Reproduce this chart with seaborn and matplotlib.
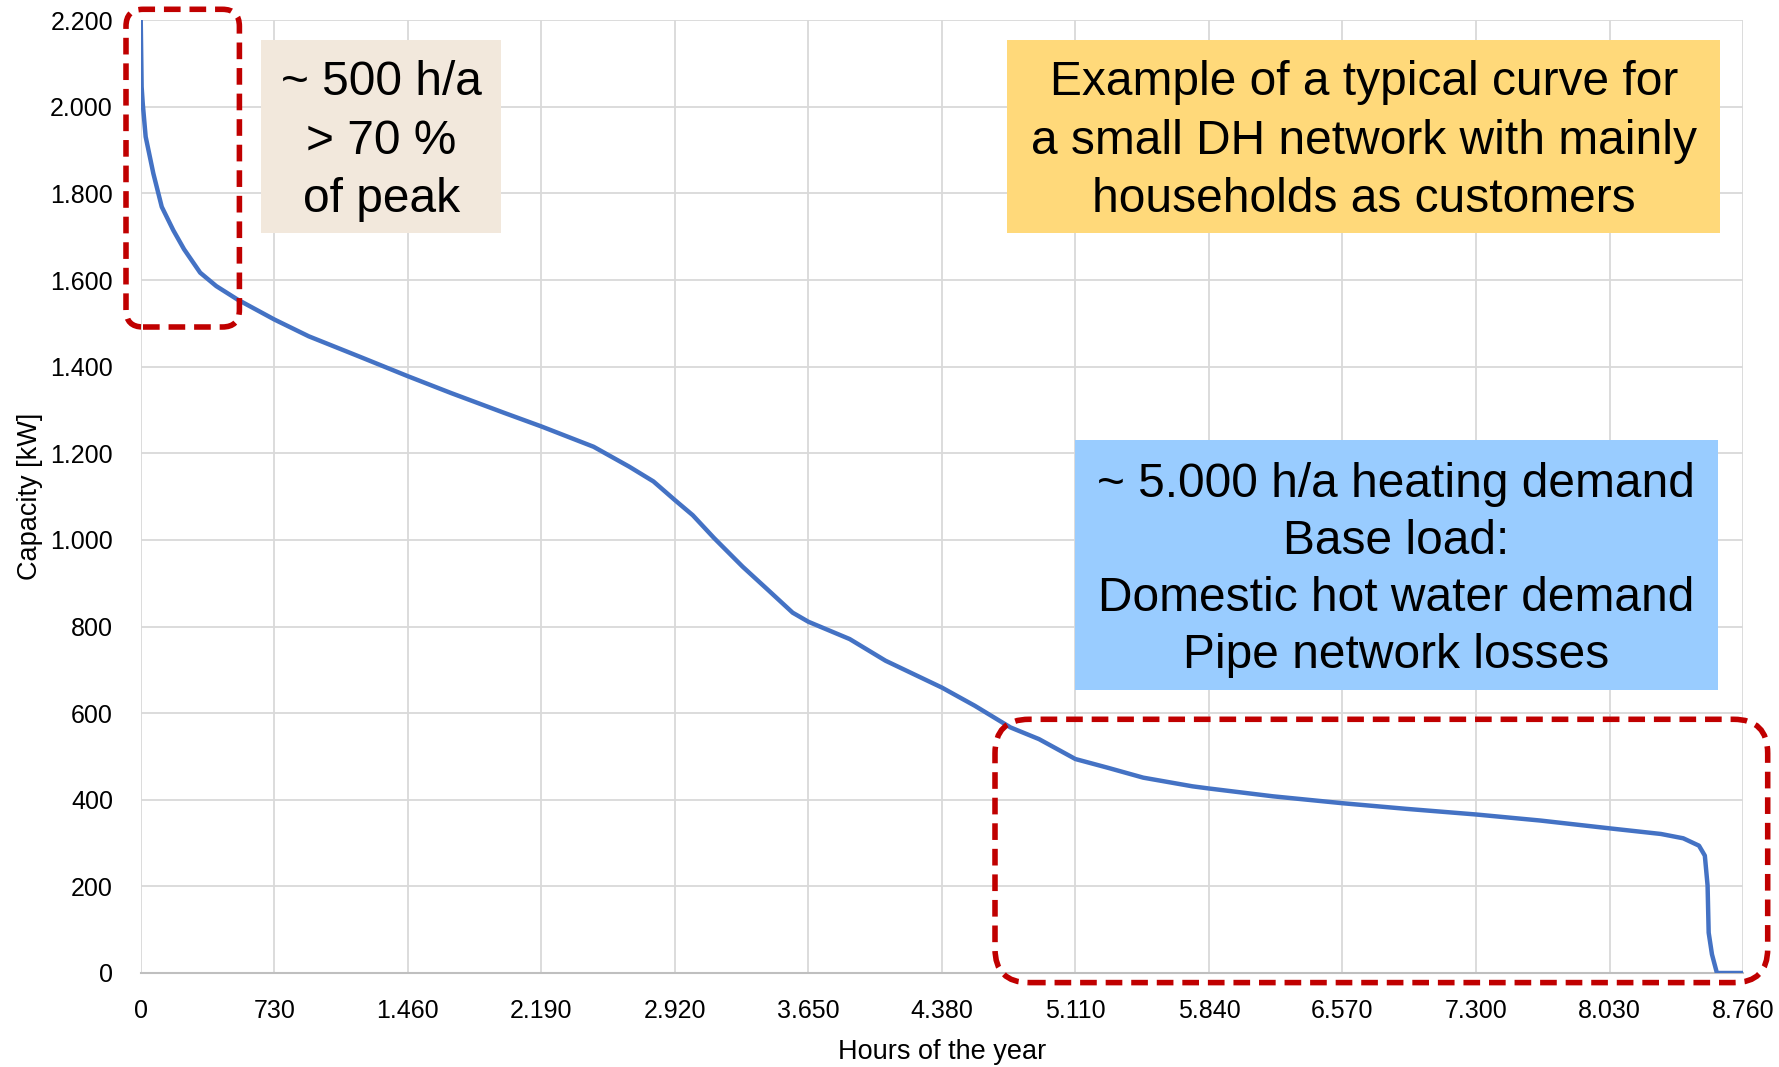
import numpy as np
import pandas as pd
import matplotlib.pyplot as plt
import seaborn as sns

from matplotlib.patches import FancyBboxPatch
from matplotlib.ticker import FuncFormatter, MultipleLocator

# load duration curve
hours = [0, 5, 11, 27, 69, 115, 178, 237, 325, 413, 529, 730, 919, 1191, 1460,
         1697, 1989, 2190, 2476, 2671, 2803, 2920, 3018, 3135, 3291, 3428, 3564,
         3650, 3876, 4072, 4380, 4560, 4755, 4911, 5110, 5286, 5481, 5750, 5840,
         6189, 6570, 6919, 7300, 7652, 8030, 8311, 8433, 8519, 8551, 8566, 8572,
         8590, 8617, 8760]
capacity_kw = [2200, 2046, 2008, 1931, 1846, 1769, 1715, 1671, 1617, 1586, 1555,
               1509, 1470, 1424, 1378, 1339, 1293, 1262, 1215, 1169, 1135, 1092,
               1057, 1004, 938, 885, 832, 811, 771, 721, 659, 617, 567, 540, 494,
               474, 451, 431, 426, 408, 392, 379, 366, 352, 334, 321, 311, 294,
               271, 202, 93, 43, 0, 0]

x_ticks = list(range(0, 8761, 730))
peak_text = "~ 500 h/a\n> 70 %\nof peak"
title_text = "Example of a typical curve for\na small DH network with mainly\nhouseholds as customers"
base_text = "~ 5.000 h/a heating demand\nBase load:\nDomestic hot water demand\nPipe network losses"

sns.set_style("white")
plt.rcParams["font.family"] = ["Liberation Sans Narrow", "Liberation Sans", "DejaVu Sans"]
plt.rcParams["text.color"] = "black"
plt.rcParams["axes.labelcolor"] = "black"

df = pd.DataFrame({"hours": hours, "capacity": capacity_kw})

fig = plt.figure(figsize=(17.79, 10.67), dpi=100)
ax = fig.add_axes([0.0791, 0.0881, 0.9007, 0.893])

sns.lineplot(data=df, x="hours", y="capacity", ax=ax, color="#4472C4", linewidth=3.2, zorder=3)

ax.set_xlim(0, 8760)
ax.set_ylim(0, 2200)
ax.set_xticks(x_ticks)
ax.yaxis.set_major_locator(MultipleLocator(200))
# german style thousands separator
dot_fmt = FuncFormatter(lambda v, p: f"{v:,.0f}".replace(",", "."))
ax.xaxis.set_major_formatter(dot_fmt)
ax.yaxis.set_major_formatter(dot_fmt)
ax.tick_params(axis="both", length=0, labelsize=18, colors="black")
ax.tick_params(axis="y", pad=20)
ax.tick_params(axis="x", pad=19)

ax.grid(True, color="#D9D9D9", linewidth=1.3)
for side in ["top", "right", "left"]:
    ax.spines[side].set_visible(False)
ax.spines["bottom"].set_color("#BFBFBF")
ax.spines["bottom"].set_linewidth(1.5)

ax.set_xlabel("Hours of the year", fontsize=19.5, labelpad=11)
ax.set_ylabel("Capacity [kW]", fontsize=19.5, labelpad=5)

# annotation boxes, placed in inches on the figure
inch = fig.dpi_scale_trans


def text_box(x, y, w, h, color, text, spacing):
    fig.patches.append(FancyBboxPatch((x, y), w, h, boxstyle="square,pad=0",
                                      transform=inch, facecolor=color, edgecolor="none",
                                      zorder=5))
    fig.text(x + w / 2, y + h / 2 - 0.05, text, transform=inch, ha="center", va="center",
             fontsize=34.5, linespacing=spacing, color="black",
             family=["Liberation Sans", "DejaVu Sans"], zorder=6)


text_box(2.61, 8.344, 2.405, 1.929, "#F2E8DC", peak_text, 1.38)
text_box(10.075, 8.344, 7.125, 1.929, "#FFD97A", title_text, 1.38)
text_box(10.745, 3.772, 6.433, 2.496, "#99CCFF", base_text, 1.35)

# red dashed frames
for (x, y, w, h, r) in [(1.26, 7.40, 1.134, 3.177, 0.17), (9.95, 0.844, 7.727, 2.633, 0.34)]:
    fig.patches.append(FancyBboxPatch((x + r, y + r), w - 2 * r, h - 2 * r,
                                      boxstyle=f"round,pad={r},rounding_size={r}",
                                      transform=inch, facecolor="none", edgecolor="#C00000",
                                      linewidth=4, linestyle=(0, (3, 1.6)), zorder=7))

fig.savefig("out.png", dpi=100)
